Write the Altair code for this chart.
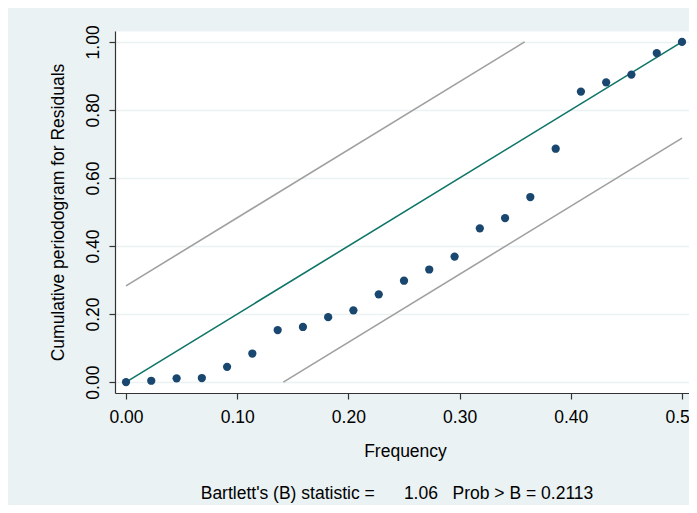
import altair as alt
import pandas as pd

# Frequencies (x) and cumulative periodogram values (y)
freq = [0.0000, 0.0227, 0.0455, 0.0682, 0.0909, 0.1136, 0.1364, 0.1591,
        0.1818, 0.2045, 0.2273, 0.2500, 0.2727, 0.2955, 0.3182, 0.3409,
        0.3636, 0.3864, 0.4091, 0.4318, 0.4545, 0.4773, 0.5000]
cum = [0.000, 0.004, 0.011, 0.012, 0.045, 0.084, 0.153, 0.162,
       0.191, 0.211, 0.258, 0.298, 0.331, 0.369, 0.452, 0.482,
       0.544, 0.686, 0.854, 0.881, 0.904, 0.967, 1.000]

# Reference diagonal and Bartlett confidence bands
diag_x = [0.0, 0.5]
diag_y = [0.0, 1.0]
upper_x = [0.0, 0.3585]
upper_y = [0.283, 1.0]
lower_x = [0.1415, 0.5]
lower_y = [0.0, 0.717]

x_ticks = [0.0, 0.1, 0.2, 0.3, 0.4, 0.5]
y_ticks = [0.0, 0.2, 0.4, 0.6, 0.8, 1.0]

caption = ("Bartlett's (B) statistic =\u00a0\u00a0\u00a0\u00a0\u00a0\u00a01.06"
           "\u00a0\u00a0\u00a0Prob > B = 0.2113")

FONT = "Liberation Sans"
FS = 17.5

pts = pd.DataFrame({"x": freq, "y": cum})
diag = pd.DataFrame({"x": diag_x, "y": diag_y})
up = pd.DataFrame({"x": upper_x, "y": upper_y})
lo = pd.DataFrame({"x": lower_x, "y": lower_y})

xscale = alt.Scale(domain=[-0.0099, 0.5063], nice=False, zero=False)
yscale = alt.Scale(domain=[-0.032, 1.032], nice=False, zero=False)

xaxis = alt.Axis(values=x_ticks, format=".2f", title="Frequency",
                 grid=False, tickSize=6, labelPadding=9, titlePadding=17,
                 labelFlush=False, titleX=290)
yaxis = alt.Axis(values=y_ticks, format=".2f",
                 title="Cumulative periodogram for Residuals",
                 grid=True, tickSize=6, labelAngle=270, labelAlign="center",
                 labelBaseline="bottom", labelPadding=7, titlePadding=17,
                 labelFlush=False)

X = alt.X("x:Q", scale=xscale, axis=xaxis)
Y = alt.Y("y:Q", scale=yscale, axis=yaxis)

upper_line = alt.Chart(up).mark_line(color="#a0a0a0", strokeWidth=1.6).encode(x=X, y=Y)
lower_line = alt.Chart(lo).mark_line(color="#a0a0a0", strokeWidth=1.6).encode(x=X, y=Y)
diag_line = alt.Chart(diag).mark_line(color="#0f7567", strokeWidth=1.6).encode(x=X, y=Y)
points = alt.Chart(pts).mark_circle(color="#1a476f", opacity=1, size=68).encode(x=X, y=Y)

chart = alt.layer(upper_line, lower_line, diag_line, points).properties(
    width=574,
    height=362,
    autosize=alt.AutoSizeParams(type="none"),
    padding={"left": 107, "top": 23, "right": 0, "bottom": 112},
    background="#EAF2F3",
    title=alt.TitleParams(text=caption, orient="bottom", anchor="middle",
                          font=FONT, fontSize=FS, fontWeight="normal",
                          color="black", offset=25, dx=-5),
).configure_view(
    fill="white", stroke="transparent"
).configure_axis(
    labelFont=FONT, titleFont=FONT, labelFontSize=FS, titleFontSize=FS,
    titleFontWeight="normal", labelColor="black", titleColor="black",
    domainColor="#333333", tickColor="#333333", domainWidth=1.2, tickWidth=1.2,
    gridColor="#EAF2F3", gridWidth=1.5,
)

chart.save("out.html", embed_options={"renderer": "svg", "actions": False})
